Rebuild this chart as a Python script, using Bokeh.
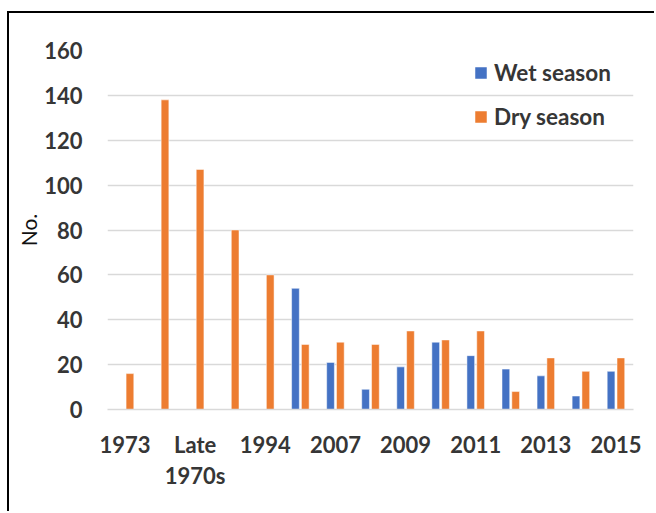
import numpy as np
from bokeh.plotting import figure
from bokeh.models import ColumnDataSource, Range1d, Legend, LegendItem, SingleIntervalTicker, FixedTicker
from bokeh.transform import dodge
from bokeh.embed import file_html
from bokeh.resources import INLINE

# ---- data ----
categories = ["1973", "1976", "Late 1970s", "1980s", "1994", "2006", "2007", "2008",
              "2009", "2010", "2011", "2012", "2013", "2014", "2015"]
# Excel shows every other category label
shown_labels = {"1973": "1973", "Late 1970s": "Late\n1970s", "1994": "1994", "2007": "2007",
                "2009": "2009", "2011": "2011", "2013": "2013", "2015": "2015"}
wet_season = [None, None, None, None, None, 54, 21, 9, 19, 30, 24, 18, 15, 6, 17]
dry_season = [16, 138, 107, 80, 60, 29, 30, 29, 35, 31, 35, 8, 23, 17, 23]
series_names = ["Wet season", "Dry season"]

FONT = "Lato"
TXT = "#363636"
GRID = "#d9d9d9"

pos = list(range(len(categories)))
src = ColumnDataSource(dict(
    pos=pos,
    cat=categories,
    wet=np.array(wet_season, dtype=float),
    dry=np.array(dry_season, dtype=float),
))

p = figure(x_range=Range1d(-0.5, len(categories) - 0.5), y_range=Range1d(0, 160),
           width=647, height=500, output_backend="svg", toolbar_location=None,
           min_border_left=98, min_border_right=23, min_border_top=37, min_border_bottom=104)
p.styles = {"border-left": "2px solid black", "border-top": "2px solid black",
            "margin-top": "11px", "margin-left": "7px"}
p.outline_line_color = None
p.background_fill_color = "white"

r_wet = p.vbar(x=dodge("pos", -0.14), top="wet", width=0.22, source=src,
               fill_color="#4472C4", line_color="white", line_width=0.5)
r_dry = p.vbar(x=dodge("pos", 0.14), top="dry", width=0.22, source=src,
               fill_color="#ED7D31", line_color="white", line_width=0.5)

# axes
p.yaxis.ticker = SingleIntervalTicker(interval=20)
p.yaxis.axis_line_color = None
p.yaxis.major_tick_line_color = None
p.yaxis.minor_tick_line_color = None
p.yaxis.major_label_text_font = FONT
p.yaxis.major_label_text_font_style = "bold"
p.yaxis.major_label_text_font_size = "22px"
p.yaxis.major_label_text_color = TXT
p.yaxis.major_label_standoff = 19
p.yaxis.axis_label = "No."
p.yaxis.axis_label_text_font = FONT
p.yaxis.axis_label_text_font_style = "normal"
p.yaxis.axis_label_text_font_size = "21px"
p.yaxis.axis_label_text_color = "#111111"
p.yaxis.axis_label_text_line_height = 0.8
p.yaxis.axis_label_standoff = 0

p.xaxis.ticker = FixedTicker(ticks=[i for i, c in enumerate(categories) if c in shown_labels])
p.xaxis.major_label_overrides = {i: shown_labels[c] for i, c in enumerate(categories) if c in shown_labels}
p.xaxis.axis_line_color = GRID
p.xaxis.axis_line_width = 1.5
p.xaxis.major_tick_line_color = None
p.xaxis.minor_tick_line_color = None
p.xaxis.major_label_text_font = FONT
p.xaxis.major_label_text_font_style = "bold"
p.xaxis.major_label_text_font_size = "22px"
p.xaxis.major_label_text_color = TXT
p.xaxis.major_label_text_line_height = 1.15
p.xaxis.major_label_standoff = 15

p.xgrid.grid_line_color = None
p.ygrid.grid_line_color = GRID
p.ygrid.grid_line_width = 1.5

legend = Legend(items=[LegendItem(label=series_names[0], renderers=[r_wet]),
                       LegendItem(label=series_names[1], renderers=[r_dry])],
                orientation="vertical")
legend.border_line_color = None
legend.background_fill_alpha = 0
legend.label_text_font = FONT
legend.label_text_font_style = "bold"
legend.label_text_font_size = "22.5px"
legend.label_text_color = TXT
legend.glyph_width = 15
legend.glyph_height = 15
legend.label_standoff = 6
legend.label_height = 22
legend.spacing = 17
legend.padding = 0
legend.margin = 0
legend.location = (366, 279)
p.add_layout(legend)

open("out.html", "w").write(file_html(p, INLINE))
